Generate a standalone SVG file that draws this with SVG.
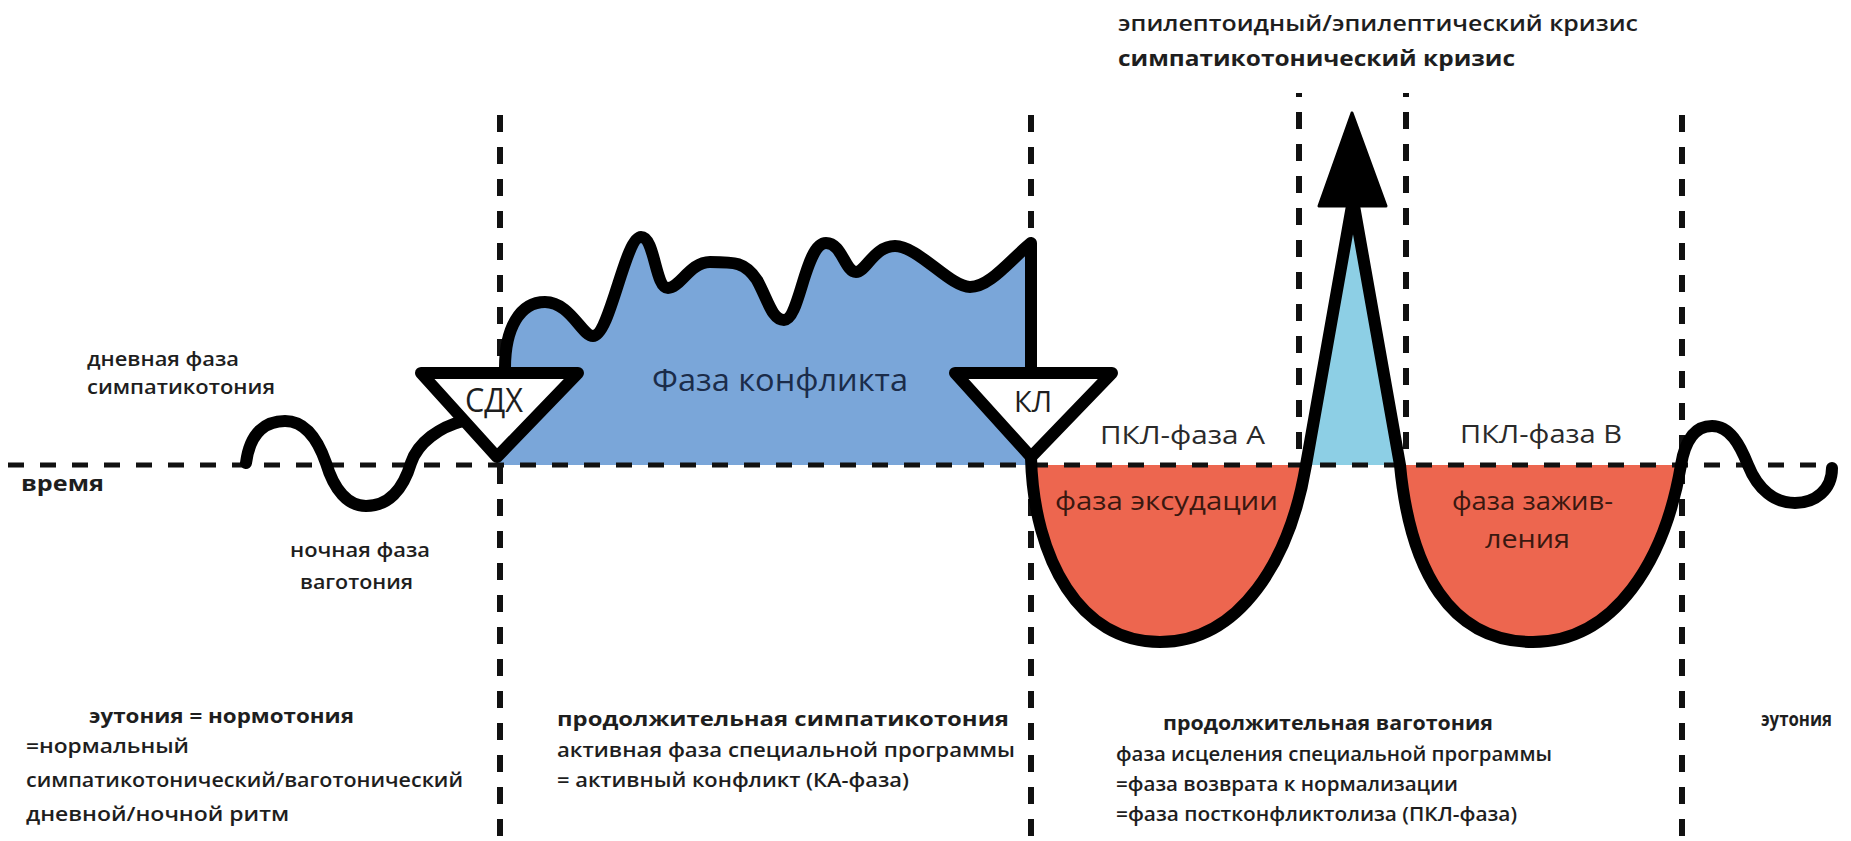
<svg xmlns="http://www.w3.org/2000/svg" width="1851" height="841" viewBox="0 0 1851 841">
<style>
.t{font-family:"Open Sans","Liberation Sans","DejaVu Sans",sans-serif;fill:#1e1e1e}
.sb{font-weight:600}
.b{font-weight:700}
.dh{stroke:#111;stroke-width:5;stroke-dasharray:16 16;fill:none}
.dv{stroke:#111;stroke-width:6;stroke-dasharray:17 15;fill:none}
.crv{stroke:#000;stroke-width:12;fill:none;stroke-linecap:round;stroke-linejoin:round}
.tri{stroke:#000;stroke-width:12;fill:#fff;stroke-linejoin:round}
</style>
<rect width="1851" height="841" fill="#fff"/>
<g id="fills">
<path id="conflict-fill" fill="#7aa6d9" d="M505 368 C505 328 520 302 545 302 C570 302 582 336 593 336 C610 336 625 237 641 237 C655 237 655 288 668 288 C680 288 690 262 710 262 C735 262 745 262 757 280 C768 300 772 320 784 320 C800 320 805 243 826 243 C842 243 845 272 856 272 C866 272 874 246 895 246 C918 246 950 287 970 287 C990 287 1010 260 1031 243 L1031 465 L497 465 Z"/>
<polygon id="crisis-fill" fill="#8dcfe5" points="1306,465 1353,200 1400,465"/>
<path id="exudation-fill" fill="#ed664f" d="M1031 465 C1034 560 1080 642 1160 642 C1240 642 1290 560 1306 465 Z"/>
<path id="healing-fill" fill="#ed664f" d="M1400 465 C1410 570 1450 642 1533 642 C1615 642 1665 560 1681 465 Z"/>
</g>
<g id="connectors">
<line class="dh" x1="8" y1="465" x2="1830" y2="465"/>
<line class="dv" x1="500" y1="115" x2="500" y2="841"/>
<line class="dv" x1="1031" y1="115" x2="1031" y2="841"/>
<line class="dv" x1="1299" y1="93" x2="1299" y2="463" stroke-dashoffset="13"/>
<line class="dv" x1="1406" y1="93" x2="1406" y2="463" stroke-dashoffset="13"/>
<line class="dv" x1="1682" y1="115" x2="1682" y2="841"/>
</g>
<g id="curves">
<path id="wave-left" class="crv" d="M246 463 C250 432 266 421 285 421 C306 421 318 440 326 463 C334 490 348 506 366 506 C388 506 403 490 411 463 C418 442 440 427 463 421"/>
<path id="conflict-curve" class="crv" d="M505 368 C505 328 520 302 545 302 C570 302 582 336 593 336 C610 336 625 237 641 237 C655 237 655 288 668 288 C680 288 690 262 710 262 C735 262 745 262 757 280 C768 300 772 320 784 320 C800 320 805 243 826 243 C842 243 845 272 856 272 C866 272 874 246 895 246 C918 246 950 287 970 287 C990 287 1010 260 1031 243 L1031 372"/>
<path id="healing-curve" class="crv" d="M1031 458 C1034 560 1080 642 1160 642 C1240 642 1290 560 1306 465 L1353 200 L1400 465 C1410 570 1450 642 1533 642 C1615 642 1665 560 1681 465 C1686 435 1698 426 1712 426 C1730 426 1740 445 1748 465 C1758 490 1775 503 1795 503 C1815 503 1832 490 1832 468"/>
<polygon id="crisis-arrowhead" points="1352,113 1319,206 1386,206" fill="#000" stroke="#000" stroke-width="3" stroke-linejoin="round"/>
</g>
<g id="node-sdh">
<polygon class="tri" points="421,373 578,373 497,457"/>
<text class="t" x="494" y="412" font-size="32" text-anchor="middle" textLength="58" lengthAdjust="spacingAndGlyphs">СДХ</text>
</g>
<g id="node-kl">
<polygon class="tri" points="955,373 1112,373 1031,457"/>
<text class="t" x="1033" y="412" font-size="30" text-anchor="middle" textLength="38" lengthAdjust="spacingAndGlyphs">КЛ</text>
</g>
<g id="labels">
<text class="t sb" x="1118" y="31" font-size="22" textLength="520" lengthAdjust="spacingAndGlyphs">эпилептоидный/эпилептический кризис</text>
<text class="t b" x="1118" y="66" font-size="22" textLength="397" lengthAdjust="spacingAndGlyphs">симпатикотонический кризис</text>
<text class="t sb" x="87" y="366" font-size="19" textLength="152" lengthAdjust="spacingAndGlyphs">дневная фаза</text>
<text class="t sb" x="87" y="394" font-size="19" textLength="188" lengthAdjust="spacingAndGlyphs">симпатикотония</text>
<text class="t b" x="21" y="491" font-size="22" textLength="83" lengthAdjust="spacingAndGlyphs">время</text>
<text class="t sb" x="290" y="557" font-size="19" textLength="140" lengthAdjust="spacingAndGlyphs">ночная фаза</text>
<text class="t sb" x="300" y="589" font-size="19" textLength="113" lengthAdjust="spacingAndGlyphs">ваготония</text>
<text class="t" x="652" y="391" font-size="31" style="fill:#1b2c4a" textLength="256" lengthAdjust="spacingAndGlyphs">Фаза конфликта</text>
<text class="t" x="1100" y="444" font-size="26" style="fill:#2a2a2a" textLength="165" lengthAdjust="spacingAndGlyphs">ПКЛ-фаза А</text>
<text class="t" x="1460" y="443" font-size="26" style="fill:#2a2a2a" textLength="162" lengthAdjust="spacingAndGlyphs">ПКЛ-фаза В</text>
<text class="t" x="1055" y="510" font-size="26" style="fill:#3a1810" textLength="223" lengthAdjust="spacingAndGlyphs">фаза эксудации</text>
<text class="t" x="1452" y="510" font-size="26" style="fill:#3a1810" textLength="161" lengthAdjust="spacingAndGlyphs">фаза зажив-</text>
<text class="t" x="1485" y="548" font-size="26" style="fill:#3a1810" textLength="85" lengthAdjust="spacingAndGlyphs">ления</text>
<text class="t b" x="89" y="723" font-size="19" textLength="265" lengthAdjust="spacingAndGlyphs">эутония = нормотония</text>
<text class="t sb" x="26" y="753" font-size="19" textLength="163" lengthAdjust="spacingAndGlyphs">=нормальный</text>
<text class="t sb" x="26" y="787" font-size="19" textLength="437" lengthAdjust="spacingAndGlyphs">симпатикотонический/ваготонический</text>
<text class="t sb" x="26" y="821" font-size="19" textLength="263" lengthAdjust="spacingAndGlyphs">дневной/ночной ритм</text>
<text class="t b" x="557" y="726" font-size="19" textLength="452" lengthAdjust="spacingAndGlyphs">продолжительная симпатикотония</text>
<text class="t sb" x="557" y="757" font-size="19" textLength="458" lengthAdjust="spacingAndGlyphs">активная фаза специальной программы</text>
<text class="t sb" x="557" y="787" font-size="19" textLength="352" lengthAdjust="spacingAndGlyphs">= активный конфликт (КА-фаза)</text>
<text class="t b" x="1163" y="730" font-size="19" textLength="330" lengthAdjust="spacingAndGlyphs">продолжительная ваготония</text>
<text class="t sb" x="1116" y="761" font-size="19" textLength="436" lengthAdjust="spacingAndGlyphs">фаза исцеления специальной программы</text>
<text class="t sb" x="1116" y="791" font-size="19" textLength="342" lengthAdjust="spacingAndGlyphs">=фаза возврата к нормализации</text>
<text class="t sb" x="1116" y="821" font-size="19" textLength="401" lengthAdjust="spacingAndGlyphs">=фаза постконфликтолиза (ПКЛ-фаза)</text>
<text class="t b" x="1761" y="726" font-size="19" textLength="71" lengthAdjust="spacingAndGlyphs">эутония</text>
</g>
</svg>
